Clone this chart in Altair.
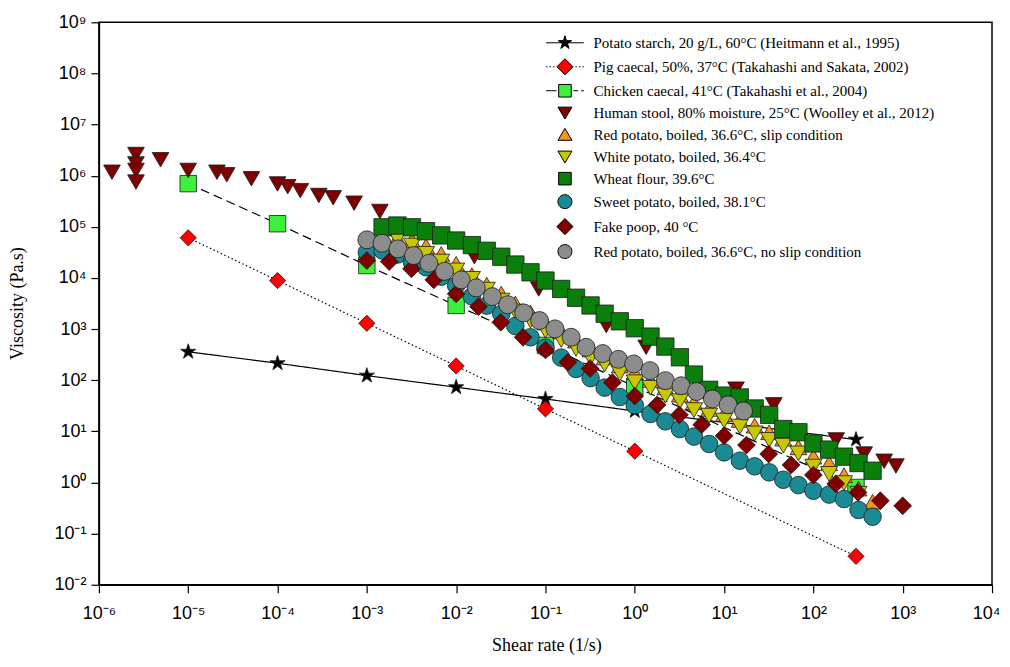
import altair as alt
import pandas as pd

# ---------------- data ----------------
series_names = [
    "Potato starch, 20 g/L, 60°C (Heitmann et al., 1995)",
    "Pig caecal, 50%, 37°C (Takahashi and Sakata, 2002)",
    "Chicken caecal, 41°C (Takahashi et al., 2004)",
    "Human stool, 80% moisture, 25°C (Woolley et al., 2012)",
    "Red potato, boiled, 36.6°C, slip condition",
    "White potato, boiled, 36.4°C",
    "Wheat flour, 39.6°C",
    "Sweet potato, boiled, 38.1°C",
    "Fake poop, 40 °C",
    "Red potato, boiled, 36.6°C, no slip condition",
]

starch_x = [1e-5, 1e-4, 1e-3, 1e-2, 1e-1, 1, 300]
starch_y = [360, 215, 123, 73, 43, 25, 6.9]

pig_x = [1e-5, 1e-4, 1e-3, 1e-2, 1e-1, 1, 300]
pig_y = [6.1e4, 8.9e3, 1300, 190, 27.5, 4.1, 0.036]

chicken_x = [1e-5, 1e-4, 1e-3, 1e-2, 1e-1, 1, 300]
chicken_y = [7.0e5, 1.15e5, 1.75e4, 2.9e3, 480, 75, 0.80]

human_x = [1.4e-6, 2.6e-6, 2.6e-6, 2.6e-6, 2.6e-6, 4.9e-6, 1.0e-5, 2.1e-5, 2.7e-5,
           5.1e-5, 1.0e-4, 1.3e-4, 1.8e-4, 2.9e-4, 4.2e-4, 7.2e-4, 1.4e-3, 3.9e-3,
           1.6e-2, 8.4e-2, 0.48, 1.34, 13.6, 36, 180, 370, 620, 840]
human_y = [1.17e6, 2.6e6, 1.7e6, 1.27e6, 7.5e5, 2.05e6, 1.27e6, 1.17e6, 1.04e6,
           8.7e5, 6.9e5, 6.1e5, 5.1e5, 4.1e5, 3.7e5, 2.9e5, 2.0e5, 8.5e4,
           2.6e4, 6.1e3, 1170, 440, 67, 33, 6.8, 3.6, 2.6, 2.1]

redslip_x = [0.0015, 0.0022, 0.0032, 0.0046, 0.0068, 0.01, 0.015, 0.022, 0.032, 0.046,
             0.068, 0.1, 0.15, 0.22, 0.32, 0.46, 0.68, 1, 1.5, 2.2, 3.2, 4.6, 6.8, 10,
             15, 22, 32, 46, 68, 100, 150, 220, 320, 460]
redslip_y = [6.46e4, 5.9e4, 5.4e4, 4.2e4, 2.94e4, 1.89e4, 1.14e4, 7.4e3, 4.95e3, 3.16e3,
             2.10e3, 1.34e3, 894, 595, 397, 277, 193, 143, 101, 72, 52, 37, 27.4, 21.7,
             16.7, 12.9, 9.6, 7.2, 4.86, 3.2, 2.37, 1.39, 0.76, 0.42]

white_x = [0.0015, 0.0022, 0.0032, 0.0046, 0.0068, 0.01, 0.015, 0.022, 0.032, 0.046,
           0.068, 0.1, 0.15, 0.22, 0.32, 0.46, 0.68, 1, 1.5, 2.2, 3.2, 4.6, 6.8, 10,
           15, 22, 32, 46, 68, 100, 150, 220, 320]
white_y = [6.2e4, 5.8e4, 4.3e4, 2.96e4, 2.09e4, 1.40e4, 9.6e3, 5.9e3, 3.6e3, 2.2e3,
           1.47e3, 935, 615, 410, 273, 205, 136, 91, 71, 50, 38.7, 26, 20.3, 16.2,
           12.4, 9.1, 6.8, 5.25, 3.7, 2.04, 1.47, 0.97, 0.60]

wheat_x = [0.0015, 0.0022, 0.0032, 0.0046, 0.0068, 0.01, 0.015, 0.022, 0.032, 0.046,
           0.068, 0.1, 0.15, 0.22, 0.32, 0.46, 0.68, 1, 1.5, 2.2, 3.2, 4.6, 6.8, 10,
           15, 22, 32, 46, 68, 100, 150, 220, 320, 460]
wheat_y = [9.8e4, 1.06e5, 9.8e4, 8.2e4, 6.8e4, 5.4e4, 4.4e4, 3.4e4, 2.6e4, 1.83e4,
           1.29e4, 8.9e3, 6.1e3, 4.1e3, 2.9e3, 2.0e3, 1.42e3, 1.04e3, 713, 455, 281,
           129, 65, 50, 46, 28, 21, 11.1, 9.6, 5.8, 4.4, 3.2, 2.4, 1.7]

sweet_x = [0.001, 0.0015, 0.0022, 0.0032, 0.0046, 0.0068, 0.01, 0.015, 0.022, 0.032,
           0.046, 0.068, 0.1, 0.15, 0.22, 0.32, 0.46, 0.68, 1, 1.5, 2.2, 3.2, 4.6, 6.8,
           10, 15, 22, 32, 46, 68, 100, 150, 220, 320, 460]
sweet_y = [3.14e4, 3.44e4, 2.87e4, 2.03e4, 1.62e4, 1.06e4, 7.1e3, 4.36e3, 2.88e3, 1.98e3,
           1.15e3, 692, 434, 277, 166, 110, 71.6, 47, 32.3, 21.9, 15.7, 11.1, 7.9, 5.66,
           3.88, 2.67, 2.07, 1.58, 1.13, 0.89, 0.69, 0.58, 0.475, 0.29, 0.214]

fake_x = [0.001, 0.00178, 0.00316, 0.00562, 0.01, 0.0178, 0.0316, 0.0562, 0.1, 0.178,
          0.316, 0.562, 1, 1.78, 3.16, 5.62, 10, 17.8, 31.6, 56.2, 100, 178, 316, 562, 1000]
fake_y = [2.19e4, 2.09e4, 1.51e4, 9.2e3, 4.9e3, 2.75e3, 1.36e3, 692, 392, 224,
          169, 90, 49, 33, 21, 13.5, 8.2, 5.4, 3.6, 2.2, 1.40, 0.94, 0.64, 0.44, 0.35]

rednoslip_x = [0.001, 0.00148, 0.00223, 0.00333, 0.00495, 0.0074, 0.0114, 0.0168, 0.0254,
               0.0378, 0.057, 0.086, 0.128, 0.194, 0.285, 0.438, 0.656, 0.973, 1.48, 2.2,
               3.3, 4.92, 7.4, 11.1, 16.5]
rednoslip_y = [5.57e4, 4.78e4, 3.71e4, 2.74e4, 1.94e4, 1.35e4, 9.2e3, 6.4e3, 4.32e3,
               3.0e3, 2.07e3, 1.47e3, 1.01e3, 692, 440, 332, 256, 208, 154, 98,
               78, 60, 43, 33, 25]

series_xy = [
    (starch_x, starch_y), (pig_x, pig_y), (chicken_x, chicken_y), (human_x, human_y),
    (redslip_x, redslip_y), (white_x, white_y), (wheat_x, wheat_y), (sweet_x, sweet_y),
    (fake_x, fake_y), (rednoslip_x, rednoslip_y),
]

x_ticks = [1e-6, 1e-5, 1e-4, 1e-3, 1e-2, 1e-1, 1, 10, 100, 1000, 1e4]
y_ticks = [1e-2, 1e-1, 1, 10, 100, 1e3, 1e4, 1e5, 1e6, 1e7, 1e8, 1e9]

# ---------------- styles ----------------
fill_colors = ["#000000", "#ff0000", "#3cf03c", "#800000", "#f7941d",
               "#c8c800", "#0a800a", "#1a8a94", "#800000", "#8c8c8c"]

STAR = ("M0,-1L0.223,-0.307L0.951,-0.309L0.361,0.117L0.588,0.809L0,0.38"
        "L-0.588,0.809L-0.361,0.117L-0.951,-0.309L-0.223,-0.307Z")
point_shapes = [STAR, "diamond", "square", "triangle-down", "triangle-up",
                "triangle-down", "square", "circle", "diamond", "circle"]
point_sizes = [256, 324, 169, 225, 169, 169, 169, 196, 256, 196]

DIAM = "M-1.15,0L0,-1.15L1.15,0L0,1.15Z"
SQ = "M-0.9,-0.9H0.9V0.9H-0.9Z"
TDOWN = "M-1,-0.8L1,-0.8L0,0.9Z"
TUP = "M-1,0.8L1,0.8L0,-0.9Z"
CIRC = "M1,0A1,1,0,1,1,-1,0A1,1,0,1,1,1,0Z"
legend_shapes = [
    "M-2.7,0H2.7" + STAR,
    "M-2.7,0H-2.5M-2.2,0H-2.0M-1.7,0H-1.5M1.5,0H1.7M2.0,0H2.2M2.5,0H2.7" + DIAM,
    "M-2.7,0H-1.2M1.2,0H1.9M2.3,0H2.7" + SQ,
    TDOWN, TUP, TDOWN, SQ, CIRC, DIAM, CIRC,
]

line_series = series_names[:3]
line_dash = [[1, 0], [1.5, 2.5], [9, 5]]

rows = []
for name, (xs, ys) in zip(series_names, series_xy):
    for xv, yv in zip(xs, ys):
        rows.append({"series": name, "x": xv, "y": yv})
df = pd.DataFrame(rows)
df_lines = df[df["series"].isin(line_series)]
df_legend = pd.DataFrame({"series": series_names, "x": [1e-9] * 10, "y": [1.0] * 10})

sup = "['⁻⁶','⁻⁵','⁻⁴','⁻³','⁻²','⁻¹','⁰','¹','²','³','⁴','⁵','⁶','⁷','⁸','⁹']"
label_expr = "'10' + " + sup + "[round(log(datum.value)/LN10)+6]"

x_enc = alt.X("x:Q", scale=alt.Scale(type="log", domain=[1e-6, 1e4], nice=False),
              axis=alt.Axis(values=x_ticks, labelExpr=label_expr, title="Shear rate (1/s)",
                            titleX=448, titleY=52, labelPadding=12, labelFlush=False,
                            labelOffset={"condition": {"test": "datum.value >= 10000", "value": -6},
                                         "value": 0}))
y_enc = alt.Y("y:Q", scale=alt.Scale(type="log", domain=[1e-2, 1e9], nice=False),
              axis=alt.Axis(values=y_ticks, labelExpr=label_expr, title="Viscosity (Pa.s)",
                            titleX=-72, titleY=281, labelPadding=5, labelFlush=False))

lines = alt.Chart(df_lines).mark_line(color="black", strokeWidth=1.2).encode(
    x=x_enc, y=y_enc,
    strokeDash=alt.StrokeDash("series:N", scale=alt.Scale(domain=line_series, range=line_dash),
                              legend=None),
    detail="series:N",
)

points = alt.Chart(df).mark_point(filled=True, stroke="#1a1a1a", strokeWidth=0.8, opacity=1).encode(
    x=x_enc, y=y_enc,
    fill=alt.Fill("series:N", scale=alt.Scale(domain=series_names, range=fill_colors), legend=None),
    shape=alt.Shape("series:N", scale=alt.Scale(domain=series_names, range=point_shapes), legend=None),
    size=alt.Size("series:N", scale=alt.Scale(domain=series_names, range=point_sizes), legend=None),
)

leg = alt.Legend(title=None, orient="none", legendX=459, legendY=13)
legend_layer = alt.Chart(df_legend).mark_point(filled=True, strokeWidth=1,
                                               opacity=1, clip=True, size=196).encode(
    x=x_enc, y=y_enc,
    fill=alt.Fill("series:N", scale=alt.Scale(domain=series_names, range=fill_colors), legend=leg),
    shape=alt.Shape("series:N", scale=alt.Scale(domain=series_names, range=legend_shapes), legend=leg),
    stroke=alt.Stroke("series:N", scale=alt.Scale(domain=series_names, range=["#000000"] * 10),
                      legend=leg),
)

chart = alt.layer(lines, points, legend_layer).resolve_scale(
    fill="independent", shape="independent", size="independent", strokeDash="independent",
    stroke="independent"
).properties(
    width=894, height=563,
    autosize=alt.AutoSizeParams(type="none"),
    padding={"left": 91, "top": 14, "right": 10, "bottom": 70},
).configure_view(
    stroke="black", strokeWidth=1.5
).configure_axis(
    grid=False, domainColor="black", domainWidth=1.5, tickColor="black", tickWidth=1.2,
    tickSize=8, labelFont="Liberation Sans", labelFontSize=18, labelColor="black",
    titleFont="Liberation Serif", titleFontSize=18, titleFontWeight="normal", titleColor="black",
).configure_legend(
    labelFont="Liberation Serif", labelFontSize=15, labelColor="black", labelLimit=600,
    symbolSize=196, symbolStrokeWidth=1, symbolStrokeColor="black", labelOffset=21,
    rowPadding=5, padding=0, symbolOpacity=1,
)

chart.save("out.html", embed_options={"renderer": "svg", "actions": False})
